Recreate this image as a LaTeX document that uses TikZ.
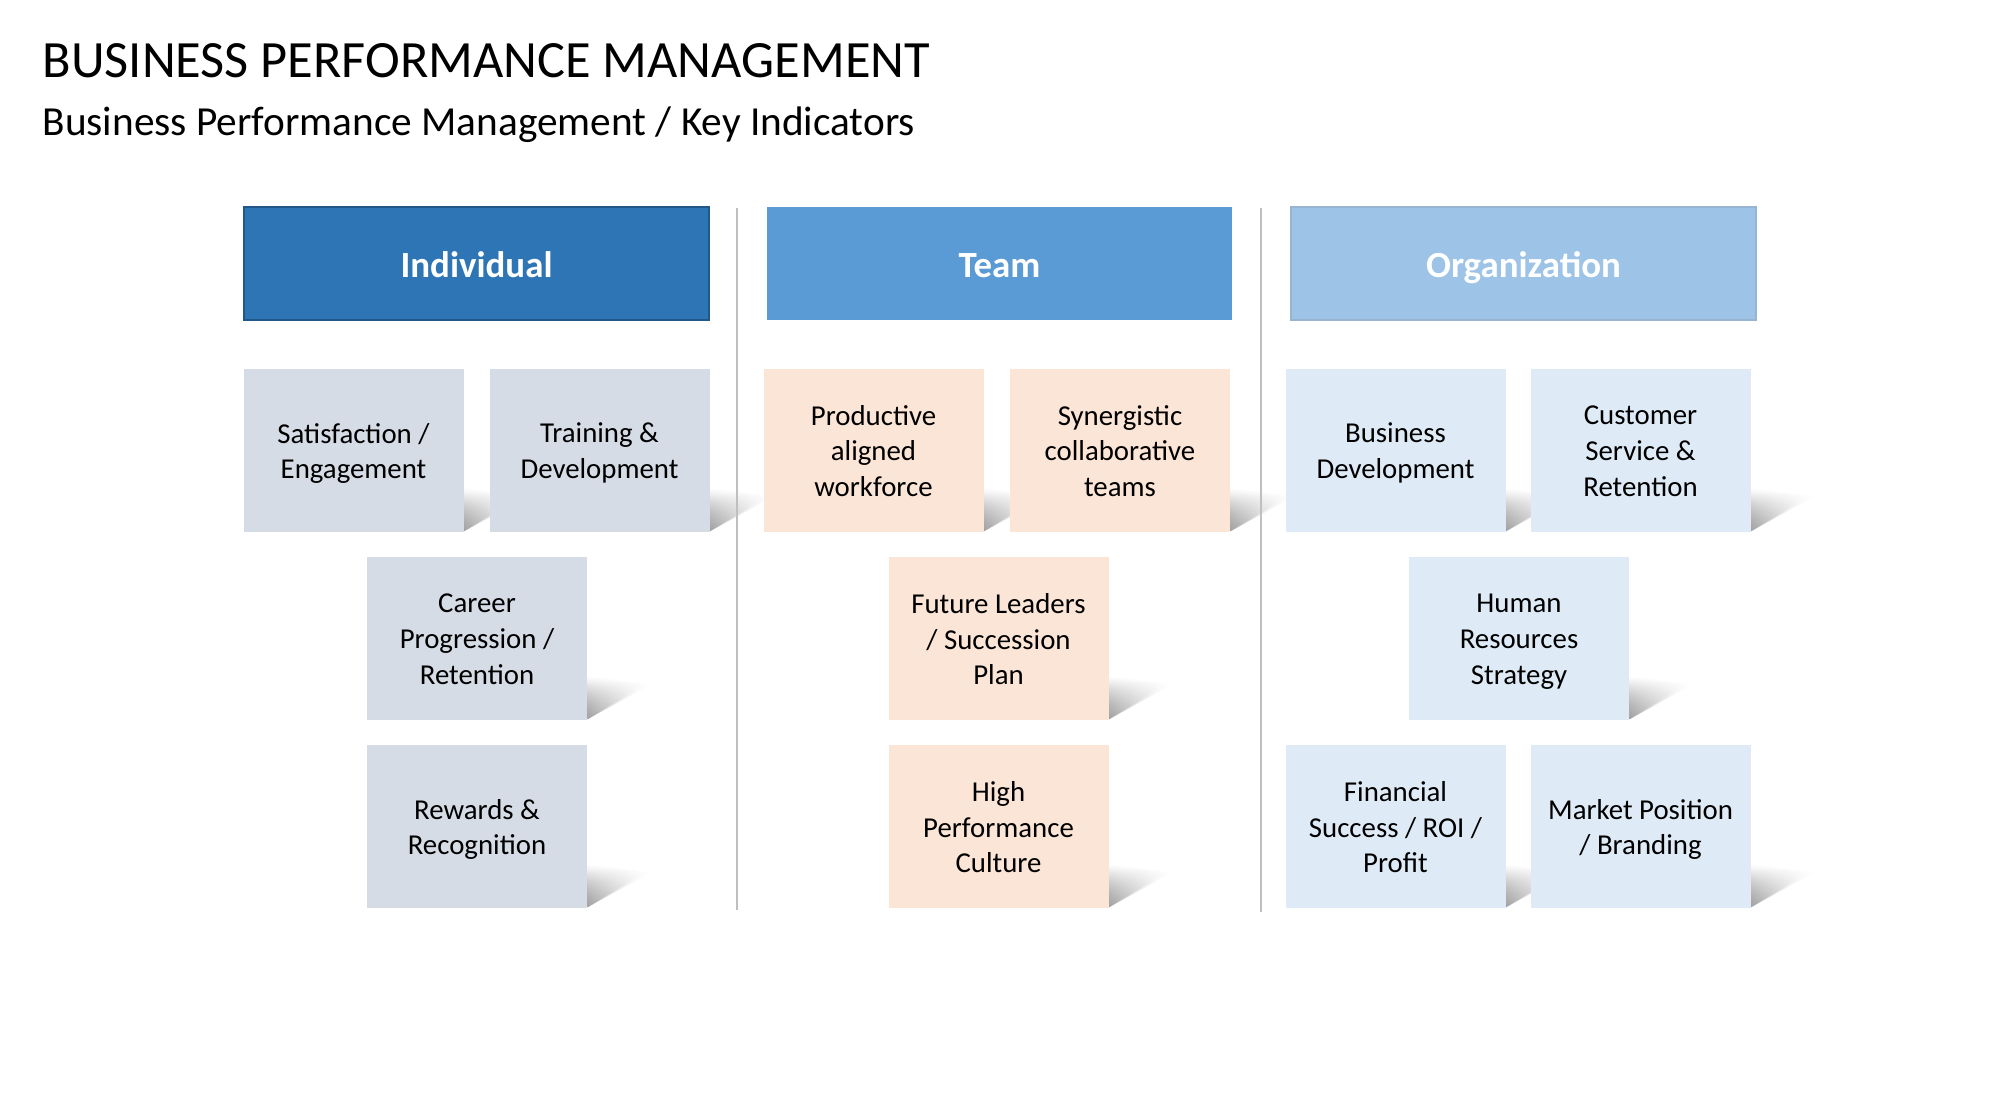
\documentclass[tikz,border=0pt]{standalone}
\usepackage{fontspec}
\setmainfont{Carlito}
\usetikzlibrary{backgrounds,fadings}
\definecolor{indiv}{HTML}{2E75B6}
\definecolor{team}{HTML}{5B9BD5}
\definecolor{orga}{HTML}{9DC3E6}
\definecolor{indivcard}{HTML}{D6DCE5}
\definecolor{teamcard}{HTML}{FBE5D6}
\definecolor{orgacard}{HTML}{DEEBF7}
\definecolor{sepgray}{HTML}{BFBFBF}

\begin{document}
\begin{tikzpicture}[
    header/.style={minimum width=4.65cm, minimum height=1.13cm, inner sep=0pt, text=white,
        font=\fontsize{10.5}{12.6}\selectfont\bfseries,
        execute at begin node={\rule[-3.78pt]{0pt}{15.4pt}}},
    card/.style={minimum width=2.2cm, minimum height=1.63cm, inner sep=0pt, align=center,
        font=\fontsize{8.2}{10.2}\selectfont, text depth=-2.2pt},
    sombra/.style={left color=black!65, right color=white, path fading=north, opacity=0.45}
]
    \useasboundingbox (0,0) rectangle (20,-11.18);

    % Titulo
    \node[anchor=base west, inner sep=0pt, font=\fontsize{14.9}{18}\selectfont] (titulo) at (0.42,-0.78) {BUSINESS PERFORMANCE MANAGEMENT};
    \node[anchor=base west, inner sep=0pt, font=\fontsize{11.75}{14}\selectfont] (subtitulo) at (0.42,-1.36) {Business Performance Management / Key Indicators};

    % Separadores
    \coordinate (s1a) at (7.37,-2.08);
    \coordinate (s1b) at (7.37,-9.10);
    \coordinate (s2a) at (12.61,-2.08);
    \coordinate (s2b) at (12.61,-9.12);
    \draw[sepgray, line width=0.6pt] (s1a) -- (s1b);
    \draw[sepgray, line width=0.6pt] (s2a) -- (s2b);

    % Encabezados
    \node[header, fill=indiv, draw=indiv!75!black] (ind) at (4.765,-2.635) {Individual};
    \node[header, fill=team] (tea) at (9.995,-2.635) {Team};
    \node[header, fill=orga, draw=orga!80!gray] (org) at (15.235,-2.635) {Organization};

    % Individual
    \node[card, fill=indivcard] (sat) at (3.535,-4.51) {Satisfaction /\\Engagement};
    \node[card, fill=indivcard] (tra) at (5.995,-4.51) {Training \&\\Development};
    \node[card, fill=indivcard] (car) at (4.77,-6.39) {Career\\Progression /\\Retention};
    \node[card, fill=indivcard] (rew) at (4.77,-8.27) {Rewards \&\\Recognition};

    % Team
    \node[card, fill=teamcard] (pro) at (8.735,-4.51) {Productive\\aligned\\workforce};
    \node[card, fill=teamcard] (syn) at (11.20,-4.51) {Synergistic\\collaborative\\teams};
    \node[card, fill=teamcard] (fut) at (9.985,-6.39) {Future Leaders\\/ Succession\\Plan};
    \node[card, fill=teamcard] (hig) at (9.985,-8.27) {High\\Performance\\Culture};

    % Organization
    \node[card, fill=orgacard] (bus) at (13.955,-4.51) {Business\\Development};
    \node[card, fill=orgacard] (cus) at (16.405,-4.51) {Customer\\Service \&\\Retention};
    \node[card, fill=orgacard] (hum) at (15.19,-6.39) {Human\\Resources\\Strategy};
    \node[card, fill=orgacard] (fin) at (13.955,-8.27) {Financial\\Success / ROI /\\Profit};
    \node[card, fill=orgacard] (mar) at (16.405,-8.27) {Market Position\\/ Branding};

    % Sombras (tres capas para suavizar)
    \begin{scope}[on background layer]
        \foreach \c in {sat,tra,car,rew,pro,syn,fut,hig,bus,cus,hum,fin,mar}
            \foreach \b in {0,0.04,0.08}
                \shade[sombra] ([xshift=-0.3cm,yshift=0.40cm+\b cm]\c.south east)
                    -- ([xshift=0.56cm+\b cm,yshift=0.37cm]\c.south east)
                    -- ([yshift=0.02cm]\c.south east) -- cycle;
    \end{scope}
\end{tikzpicture}
\end{document}
